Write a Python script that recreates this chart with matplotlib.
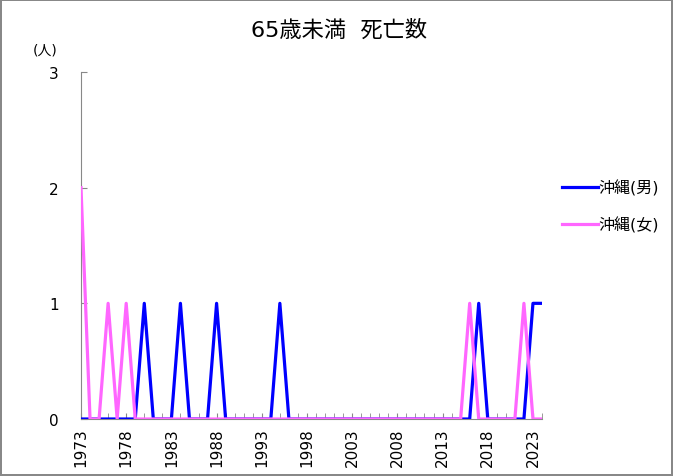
import matplotlib
matplotlib.use("Agg")
import matplotlib.pyplot as plt
from matplotlib.ticker import MultipleLocator, FixedLocator

plt.rcParams['font.family'] = ['DejaVu Sans', 'Noto Sans CJK JP']

years = list(range(1973, 2025))
male_peaks = {1980: 1, 1984: 1, 1988: 1, 1995: 1, 2017: 1, 2023: 1, 2024: 1}
female_peaks = {1973: 2, 1976: 1, 1978: 1, 2016: 1, 2022: 1}
male = [male_peaks.get(y, 0) for y in years]
female = [female_peaks.get(y, 0) for y in years]
labels = ["沖縄(男)", "沖縄(女)"]
title = "65歳未満  死亡数"
tick_years = list(range(1973, 2024, 5))

fig = plt.figure(figsize=(6.73, 4.77), dpi=100)
fig.patch.set_edgecolor('#888888')
fig.patch.set_linewidth(1.5)
ax = fig.add_axes([81/673, 57/477, (542-81)/673, (420-73)/477])

ax.plot(years, male, color='#0000FF', lw=2.3, label=labels[0], zorder=3)
ax.plot(years, female, color='#FF66FF', lw=2.3, label=labels[1], zorder=4)

ax.set_xlim(1973, 2024)
ax.set_ylim(0, 3)
ax.xaxis.set_major_locator(FixedLocator(tick_years))
ax.xaxis.set_minor_locator(MultipleLocator(1))
ax.set_yticks([0, 1, 2, 3])
for s in ['top', 'right']:
    ax.spines[s].set_visible(False)
for s in ['left', 'bottom']:
    ax.spines[s].set_color('#888888')
ax.tick_params(axis='x', which='both', direction='in', color='#888888', length=4,
               labelrotation=90, labelsize=11)
ax.tick_params(axis='y', direction='in', color='#888888', length=4, labelsize=11)
ax.tick_params(axis='x', which='both', pad=6)
ax.tick_params(axis='y', pad=16)

fig.text(45/673, 1 - 50/477, "(人)", fontsize=10, ha='center', va='center')
fig.text(339/673, 1 - 30/477, title, fontsize=16, ha='center', va='center')

leg = ax.legend(loc='center left', frameon=False,
                fontsize=11.5, handlelength=2.2, handletextpad=0.05, labelspacing=1.3)
leg.set_bbox_to_anchor((1.013, 0.614), transform=ax.transAxes)

fig.savefig("out.png", dpi=100, edgecolor=fig.get_edgecolor())
